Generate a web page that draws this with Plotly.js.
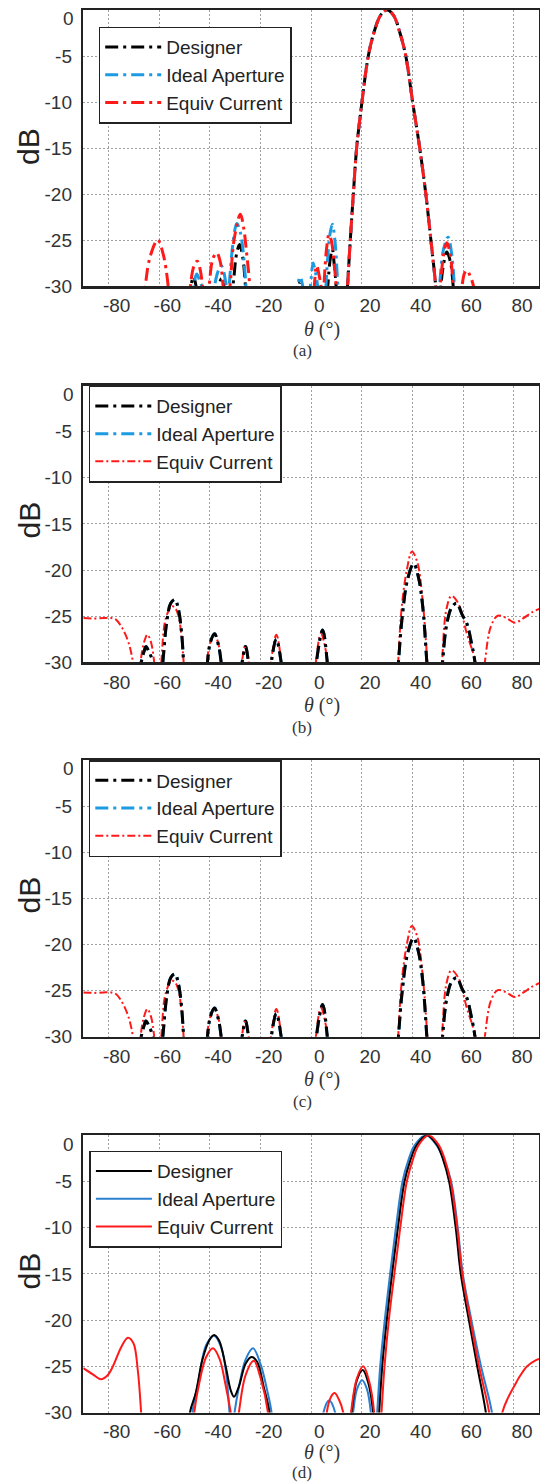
<!DOCTYPE html>
<html><head><meta charset="utf-8">
<script src="https://cdn.plot.ly/plotly-3.0.1.min.js"></script>
<style>html,body{margin:0;padding:0;background:#fff}#chart{width:540px;height:1483px}</style>
</head><body><div id="chart"></div>
<script>
// ---------------- data ----------------
const seriesNames = ['Designer', 'Ideal Aperture', 'Equiv Current'];
const panelLabels = ['(a)', '(b)', '(c)', '(d)'];
const xTickVals = [-80, -60, -40, -20, 0, 20, 40, 60, 80];
const xTickText = ['-80', '-60', '-40', '-20', '0', '20', '40', '60', '80'];
const yTickVals = [0, -5, -10, -15, -20, -25, -30];
const yTickText = ['0', '-5', '-10', '-15', '-20', '-25', '-30'];

// panel (a)
const aDesTheta = [-90,-50,-48.5,-47.5,-46.5,-45.5,-44.5,-39,-37.5,-36.5,-35.5,-34.5,-33.5,-32,-31,-29.5,-28.3,-27,-26,-25,-8,-5.5,-4.3,-3,-1.5,5,6.5,7.5,8.3,9,9.8,10.8,12.5,13.5,14.3,15.4,16.6,17.9,20,22.5,25,27.5,30,32.5,35,37.3,40,42.8,45.2,47.2,49.1,50,51,52,53.5,55,56,57,60,90];
const aDesDb    = [-40,-40,-33,-30,-29,-30,-33,-34,-31,-30,-29.2,-30,-32,-31,-30,-26.5,-25.5,-27,-30,-34,-40,-31,-29.5,-31,-35,-35,-30,-27,-26,-27.5,-30,-35,-40,-34,-30,-25,-20,-15,-10,-5,-2.2,-0.5,0,-0.6,-2.5,-5,-10,-15,-20,-25,-30,-34,-30.5,-28,-26.3,-27.5,-30,-34,-40,-40];
const aIdeTheta = [-90,-48,-46.4,-45.2,-44,-43.3,-42,-39.5,-38.2,-36.5,-35.5,-34.5,-33.5,-32.8,-32,-31,-29.4,-28,-27,-25.8,-24.8,-10,-6,-5.4,-4.4,-3.4,-2.2,-0.8,0,0.7,1.6,2.5,3.5,5.2,6.2,7.3,8.3,9.3,10.5,11.5,12.5,13.5,14.3,15.4,16.6,17.9,20,22.5,25,27.5,30,32.5,35,37.3,40,42.8,45.2,47.2,49.1,49.7,50.6,52.2,54,55.4,56.5,57.5,60,90];
const aIdeDb    = [-40,-40,-30,-28.7,-29.5,-30,-34,-34,-30,-28.2,-27.8,-28.5,-30,-30.5,-28.5,-25.5,-23.2,-24.2,-26,-30,-35,-40,-33,-30,-29,-30,-33,-31,-29,-27.5,-28.5,-30,-34,-32,-28,-24.5,-23.3,-25,-30,-34,-40,-34,-30,-25,-20,-15,-10,-5,-2.2,-0.5,0,-0.6,-2.5,-5,-10,-15,-20,-25,-30,-33,-30,-26,-24.7,-26.5,-30,-34,-40,-40];
const aEqvTheta = [-90,-68,-65.5,-63.5,-60.6,-58.5,-56.5,-55,-50,-47.7,-46.3,-45,-43.8,-43,-42,-41,-40.3,-38.8,-37.3,-36,-34.8,-34,-33,-32.1,-30.5,-28,-26.8,-25.5,-24.3,-23.3,-5,0.5,1.2,2.1,3.2,3.8,4.5,5,6,7,8,9,9.8,10.8,12.5,13.5,14.3,15.4,16.6,17.9,20,22.5,25,27.5,30,32.5,35,37.3,40,42.8,45.2,47.2,49.1,49.8,50.9,52.3,53.5,54.8,56,57,58.3,59.5,60.5,61.5,62.8,64,65,68,90];
const aEqvDb    = [-40,-40,-30,-26.7,-25,-26.5,-30,-37,-40,-30,-27.8,-27.3,-28.3,-30,-34,-33,-30,-27,-26.4,-27.3,-30,-33,-31.5,-30,-25,-22.2,-23.5,-26.5,-30,-36,-40,-34,-30,-27.8,-29,-30,-33,-30,-26,-24.4,-25.2,-27.5,-30,-35,-40,-34,-30,-25,-20,-15,-10,-5,-2.2,-0.5,0,-0.6,-2.5,-5,-10,-15,-20,-25,-30,-34,-30,-26.5,-25.3,-26.5,-30,-34,-34,-30,-28.6,-28.3,-29,-30,-35,-40,-40];

// panels (b) and (c) (identical curves)
const bDesTheta = [-90,-69,-67.1,-66,-65.3,-64,-62.6,-61.5,-60,-58.6,-57,-55.5,-53.8,-52.5,-51.3,-50.4,-49.5,-43,-41,-39.8,-38.2,-36.6,-35.6,-34.5,-29,-27.3,-26,-24.8,-23.5,-17.5,-15.8,-13.8,-11.9,-10.5,0.5,2,4.5,6.3,7.3,33,34.4,36,38,40.4,42.3,44,45.6,46.8,50.5,51.8,53.5,55.5,57.4,59.5,61.4,63.3,64.6,66,90];
const bDesDb    = [-40,-40,-30,-28.8,-28.3,-28.9,-30,-34,-34,-30,-25.5,-23.6,-23.2,-24.2,-26.5,-30,-34,-37,-30,-27.8,-26.9,-28.2,-30,-34,-35,-30,-28.3,-30,-34,-35,-30,-27.5,-30,-34,-35,-30,-26.5,-30,-34,-36,-30,-24.8,-21,-19.3,-20.8,-24,-30,-35,-35,-30,-25.8,-24,-23.6,-24.8,-25.8,-28,-30,-35,-40];
const bIdeTheta = bDesTheta;
const bIdeDb    = bDesDb;
const bEqvTheta = [-90,-86,-82,-79,-77,-75.5,-74.2,-72.1,-70.4,-69,-68.2,-67.4,-66,-64.7,-63.3,-62,-61,-60,-59.2,-57.9,-56.5,-55.2,-53.8,-52.5,-51.3,-50.4,-49.5,-43,-41.2,-40,-38.2,-36.5,-35.5,-34.5,-29,-27.4,-26,-24.7,-23.5,-17.5,-15.9,-13.8,-11.8,-10.5,0.5,1.8,3.8,6.5,7.5,33,34.3,35.6,37.7,39.7,41.8,43.8,45.8,46.8,50.5,51.6,53.3,55.3,58,61.4,64.8,66.5,68.5,70.9,73.6,77,80.4,83.8,87,90];
const bEqvDb    = [-25.2,-25.25,-25.2,-25.2,-25.4,-25.9,-26.5,-27.9,-30,-34,-34,-30,-27.8,-27,-27.8,-30,-33,-33,-30,-25.8,-24.5,-23.9,-24.1,-24.9,-27,-30,-34,-37,-30,-28,-27,-28.2,-30,-34,-35,-30,-28.1,-30,-34,-35,-30,-27,-30,-34,-35,-30,-26.9,-30,-34,-36,-30,-24.3,-20,-18,-19.1,-22.9,-30,-35,-35,-30,-24.3,-22.8,-23.6,-26.9,-30,-35,-30,-26.1,-24.95,-25.2,-25.7,-25.2,-24.6,-24.2];

// panel (d)
const dDesTheta = [-90,-50,-47.9,-45.6,-43,-40.3,-38.4,-36.4,-33.8,-31.8,-30.5,-28.6,-25.9,-23.6,-21.4,-18.8,-16.5,-15.5,14,15.9,18,20.3,22.5,24.4,25.5,26.8,28,29.8,31.9,34.2,36.8,39,41.5,45.6,49.5,52,54.4,57,59,62.2,65.5,68.9,70.5,90];
const dDesDb    = [-40,-40,-30,-27.9,-24.3,-22.2,-21.6,-22.2,-25,-27.6,-28.3,-27.2,-24.7,-24,-24.5,-27.2,-30,-34,-34,-30,-26.5,-25.4,-26.8,-30,-36,-30,-25,-20,-15,-10,-5,-2.8,-1.1,0,-1,-2.6,-5,-10,-15,-20,-25,-30,-34,-40];
const dIdeTheta = [-90,-49,-46.9,-44.5,-41.5,-38.4,-35.5,-33.5,-32.3,-31.5,-30.3,-28.6,-26,-23,-20,-17.5,-15.7,-14.5,3.5,4.8,7,9.4,10.5,14,16.5,18,20.1,22,23.5,24.5,26,27.2,29,31.1,33.4,36,38.2,40.7,45.3,49.5,52.5,55.2,57.8,59.8,63.2,67,71.3,72.5,90];
const dIdeDb    = [-40,-40,-30,-26.5,-22.7,-21.7,-23,-26,-30,-33,-30,-27.3,-24.3,-23.05,-24.8,-27.5,-30,-35,-35,-30,-28.7,-30,-35,-35,-30,-27.5,-26.5,-27.5,-30,-36,-30,-25,-20,-15,-10,-5,-2.8,-1.1,0,-1.1,-2.8,-5,-10,-15,-20,-25,-30,-34,-40];
const dEqvTheta = [-90,-86.1,-83,-80.5,-78.3,-75,-72.4,-70.2,-68.5,-67.2,-66.2,-60,-47.2,-46.2,-44,-41.5,-38.8,-36.2,-34,-31.8,-30.2,-28.6,-26,-22.7,-20,-17.1,-16,5,6.1,7.8,9.2,10.9,12.6,13.5,14.8,15.7,18,20.5,22.8,24.8,25.8,27.7,28.9,30.6,32.8,35.1,37.7,39.9,42.3,46.3,50.2,52.7,55,57.6,59.6,62.8,66.2,70.2,71.5,73.5,75.4,77.5,80,82.5,85.2,88.9,90];
const dEqvDb    = [-25.2,-25.9,-26.4,-26,-25,-22.9,-21.9,-22.5,-25.4,-29.9,-35,-40,-35,-30,-26.5,-24,-23.05,-24.2,-26.8,-30,-33,-30,-26,-24.4,-26.3,-30,-35,-35,-30,-28.3,-27.9,-28.6,-30,-34,-34,-30,-26.3,-25,-26.6,-30,-38,-30,-25,-20,-15,-10,-5,-2.8,-1.1,0,-1.0,-2.6,-5,-10,-15,-20,-25,-30,-34,-34,-30,-28.5,-27.2,-26,-25,-24.3,-24.2];

// ---------------- layout helpers ----------------
const W = 540, H = 1483;
const px = v => v / W;
const py = v => 1 - v / H;

const BLACK = '#000000', BLUE_A = '#1c9be2', BLUE_D = '#2a7fcf', RED = '#ff1a1a';
const DASHDOT = '13px,5px,3px,5px';
const THIN_DASHDOT = '8px,3px,2px,3px';

// labY is the vertical centre of the panel label, except for the last panel,
// whose label is anchored to the bottom edge of the page
const panels = [
  {top: 10,     bottom: 286,    legX: 98.7, legY: 26.7,   dbY: 147,    thY: 329,    labY: 350.5,  labAnchor: 'middle'},
  {top: 385.6,  bottom: 662.3,  legX: 88.8, legY: 385.6,  dbY: 520.5,  thY: 705,    labY: 727,    labAnchor: 'middle'},
  {top: 760,    bottom: 1036.7, legX: 88.8, legY: 760,    dbY: 895.5,  thY: 1079,   labY: 1101,   labAnchor: 'middle'},
  {top: 1135.3, bottom: 1412.5, legX: 89.4, legY: 1150.7, dbY: 1271.5, thY: 1452,   labY: 1483,   labAnchor: 'bottom'}
];

const series = [
  // [panel index, series index, theta, dB, color, width, dash]
  [0, 0, aDesTheta, aDesDb, BLACK, 3, DASHDOT],
  [0, 1, aIdeTheta, aIdeDb, BLUE_A, 3, DASHDOT],
  [0, 2, aEqvTheta, aEqvDb, RED, 3, DASHDOT],
  [1, 1, bIdeTheta, bIdeDb, BLUE_A, 3, DASHDOT],
  [1, 2, bEqvTheta, bEqvDb, RED, 2, THIN_DASHDOT],
  [1, 0, bDesTheta, bDesDb, BLACK, 3, DASHDOT],
  [2, 1, bIdeTheta, bIdeDb, BLUE_A, 3, DASHDOT],
  [2, 2, bEqvTheta, bEqvDb, RED, 2, THIN_DASHDOT],
  [2, 0, bDesTheta, bDesDb, BLACK, 3, DASHDOT],
  [3, 1, dIdeTheta, dIdeDb, BLUE_D, 2, 'solid'],
  [3, 0, dDesTheta, dDesDb, BLACK, 2, 'solid'],
  [3, 2, dEqvTheta, dEqvDb, RED, 2, 'solid']
];

const traces = series.map(([p, s, th, db, color, width, dash]) => {
  const k = p + 1;
  return {
    type: 'scatter', mode: 'lines',
    x: th, y: db,
    xaxis: k === 1 ? 'x' : 'x' + k,
    yaxis: k === 1 ? 'y' : 'y' + k,
    name: seriesNames[s],
    legend: k === 1 ? 'legend' : 'legend' + k,
    legendgroup: 'p' + k + 's' + s,
    legendrank: s + 1,
    line: {color: color, width: width, dash: dash, shape: 'spline', smoothing: 1},
    hoverinfo: 'skip'
  };
});

const SANS = 'Liberation Sans, Arial, sans-serif';
const SERIF = 'Liberation Serif, Times New Roman, serif';
const tickFont = {family: SANS, size: 19, color: '#333'};
// the top "0" label sits a little below the top frame in the reference
const yAxisText = yTickText.map((t, i) => (yTickVals[i] === 0 ? '' : t));

const layout = {
  width: W, height: H,
  margin: {l: 0, r: 0, t: 0, b: 0},
  paper_bgcolor: '#fff', plot_bgcolor: '#fff',
  showlegend: true,
  annotations: []
};

panels.forEach((P, i) => {
  const k = i + 1;
  const xn = k === 1 ? 'xaxis' : 'xaxis' + k;
  const yn = k === 1 ? 'yaxis' : 'yaxis' + k;
  layout[xn] = {
    domain: [px(83.3), px(539.3)],
    anchor: k === 1 ? 'y' : 'y' + k,
    range: [-90, 90],
    tickmode: 'array', tickvals: xTickVals, ticktext: xTickText,
    ticks: '', ticklabelstandoff: k === 4 ? 0 : 1, ticklabelshift: 8,
    tickfont: tickFont,
    showgrid: true, gridcolor: '#a0a0a0', gridwidth: 1, griddash: '2px,2px',
    zeroline: false,
    showline: true, linecolor: '#222', linewidth: 2.5, mirror: true,
    fixedrange: true
  };
  layout[yn] = {
    domain: [py(P.bottom), py(P.top)],
    anchor: k === 1 ? 'x' : 'x' + k,
    range: [-30, 0],
    tickmode: 'array', tickvals: yTickVals, ticktext: yAxisText,
    ticks: '', ticklabelstandoff: 5,
    tickfont: tickFont,
    showgrid: true, gridcolor: '#a0a0a0', gridwidth: 1, griddash: '2px,2px',
    zeroline: false,
    showline: true, linecolor: '#222', linewidth: 2.5, mirror: true,
    fixedrange: true
  };
  layout[k === 1 ? 'legend' : 'legend' + k] = {
    x: px(P.legX), y: py(P.legY), xanchor: 'left', yanchor: 'top',
    xref: 'paper', yref: 'paper',
    bgcolor: '#ffffff', bordercolor: '#222', borderwidth: 1.5,
    font: {family: SANS, size: 19, color: '#222'},
    itemwidth: 56, traceorder: 'grouped', tracegroupgap: 0
  };
  layout.annotations.push({
    xref: 'paper', yref: 'paper', x: px(76), y: py(P.top + 9),
    text: yTickText[yTickVals.indexOf(0)], showarrow: false,
    xanchor: 'right', yanchor: 'middle',
    font: tickFont
  });
  layout.annotations.push({
    xref: 'paper', yref: 'paper', x: px(29), y: py(P.dbY),
    text: 'dB', textangle: -90, showarrow: false,
    xanchor: 'center', yanchor: 'middle',
    font: {family: SANS, size: 30, color: '#222'}
  });
  layout.annotations.push({
    xref: 'paper', yref: 'paper', x: px(321.5), y: py(P.thY),
    text: '<i>θ</i> (°)', showarrow: false,
    xanchor: 'center', yanchor: 'middle', borderpad: 0,
    font: {family: SERIF, size: 20, color: '#333'}
  });
  layout.annotations.push({
    xref: 'paper', yref: 'paper', x: px(302), y: py(P.labY),
    text: panelLabels[i], showarrow: false,
    xanchor: 'center', yanchor: P.labAnchor, borderpad: 0,
    font: {family: SERIF, size: 17, color: '#333'}
  });
});

Plotly.newPlot('chart', traces, layout, {staticPlot: true, displayModeBar: false});
</script>
</body></html>
